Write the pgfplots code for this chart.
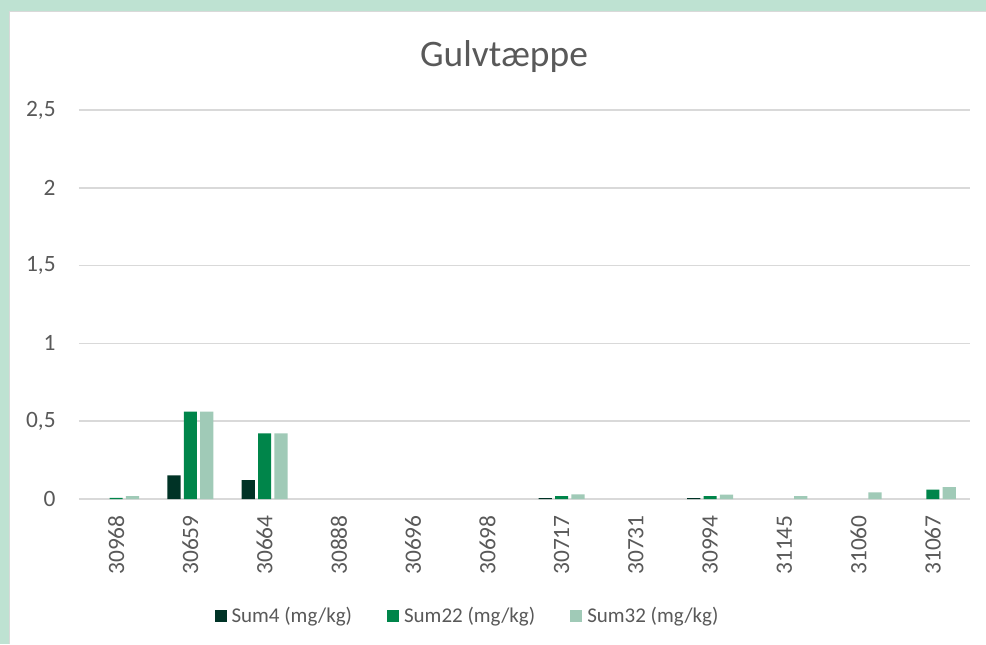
\documentclass[border=0pt]{standalone}
\usepackage{fontspec}
\setmainfont{Carlito}
\usepackage{pgfplots}
\pgfplotsset{compat=1.18}
\definecolor{mint}{RGB}{190,226,210}
\definecolor{cdark}{RGB}{0,51,38}
\definecolor{cgreen}{RGB}{0,133,74}
\definecolor{clight}{RGB}{160,202,183}
\definecolor{txt}{RGB}{89,89,89}
\definecolor{gridc}{RGB}{217,217,217}
\newcommand{\tickfont}{\fontsize{11.7}{14}\selectfont}
\begin{document}
\begin{tikzpicture}
\useasboundingbox (0,0) rectangle (493pt,322pt);
\fill[white] (0,0) rectangle (493pt,322pt);
\fill[mint] (0,0) rectangle (4.5pt,322pt);
\fill[mint] (0,316.5pt) rectangle (493pt,322pt);
\draw[gridc, line width=0.6pt] (4.8pt,0) -- (4.8pt,316.2pt) -- (493pt,316.2pt);
\node[txt, font=\fontsize{18.7}{22}\selectfont, anchor=base] at (252pt,288.5pt) {Gulvtæppe};
\begin{axis}[
  at={(39.5pt,72.5pt)}, anchor=south west,
  scale only axis, width=445.5pt, height=194.5pt,
  ybar=1.6pt, bar width=6.6pt,
  xmin=-0.5, xmax=11.5, ymin=0, ymax=2.5,
  ytick={0,0.5,1,1.5,2,2.5},
  yticklabels={0,{0,5},1,{1,5},2,{2,5}},
  xtick={0,...,11},
  xticklabels={30968,30659,30664,30888,30696,30698,30717,30731,30994,31145,31060,31067},
  axis line style={draw=none},
  xmajorgrids=false, ymajorgrids=true,
  grid style={draw=gridc, line width=0.75pt},
  major tick length=0pt,
  yticklabel style={text=txt, font=\tickfont, anchor=east, inner sep=0pt, xshift=-11.5pt},
  xticklabel style={text=txt, font=\tickfont, rotate=90, anchor=east, inner xsep=8pt, inner ysep=0pt},
  legend columns=3,
  legend style={draw=none, fill=none, at={(0.4377,-0.3008)}, anchor=center,
    font=\fontsize{10.5}{13}\selectfont, text=txt,
    /tikz/every even column/.append style={column sep=15pt},
    nodes={inner xsep=2.5pt}},
  legend image code/.code={\fill[#1,draw=none] (0pt,-3pt) rectangle (6pt,3pt);},
  clip=false,
]
\addplot[fill=cdark, draw=none] coordinates {(1,0.152) (2,0.122) (6,0.006) (8,0.005)};
\addplot[fill=cgreen, draw=none] coordinates {(0,0.008) (1,0.561) (2,0.422) (6,0.019) (8,0.018) (11,0.060)};
\addplot[fill=clight, draw=none] coordinates {(0,0.019) (1,0.561) (2,0.422) (6,0.030) (8,0.028) (9,0.019) (10,0.043) (11,0.077)};
\legend{Sum4 (mg/kg),Sum22 (mg/kg),Sum32 (mg/kg)}
\end{axis}
\end{tikzpicture}
\end{document}
